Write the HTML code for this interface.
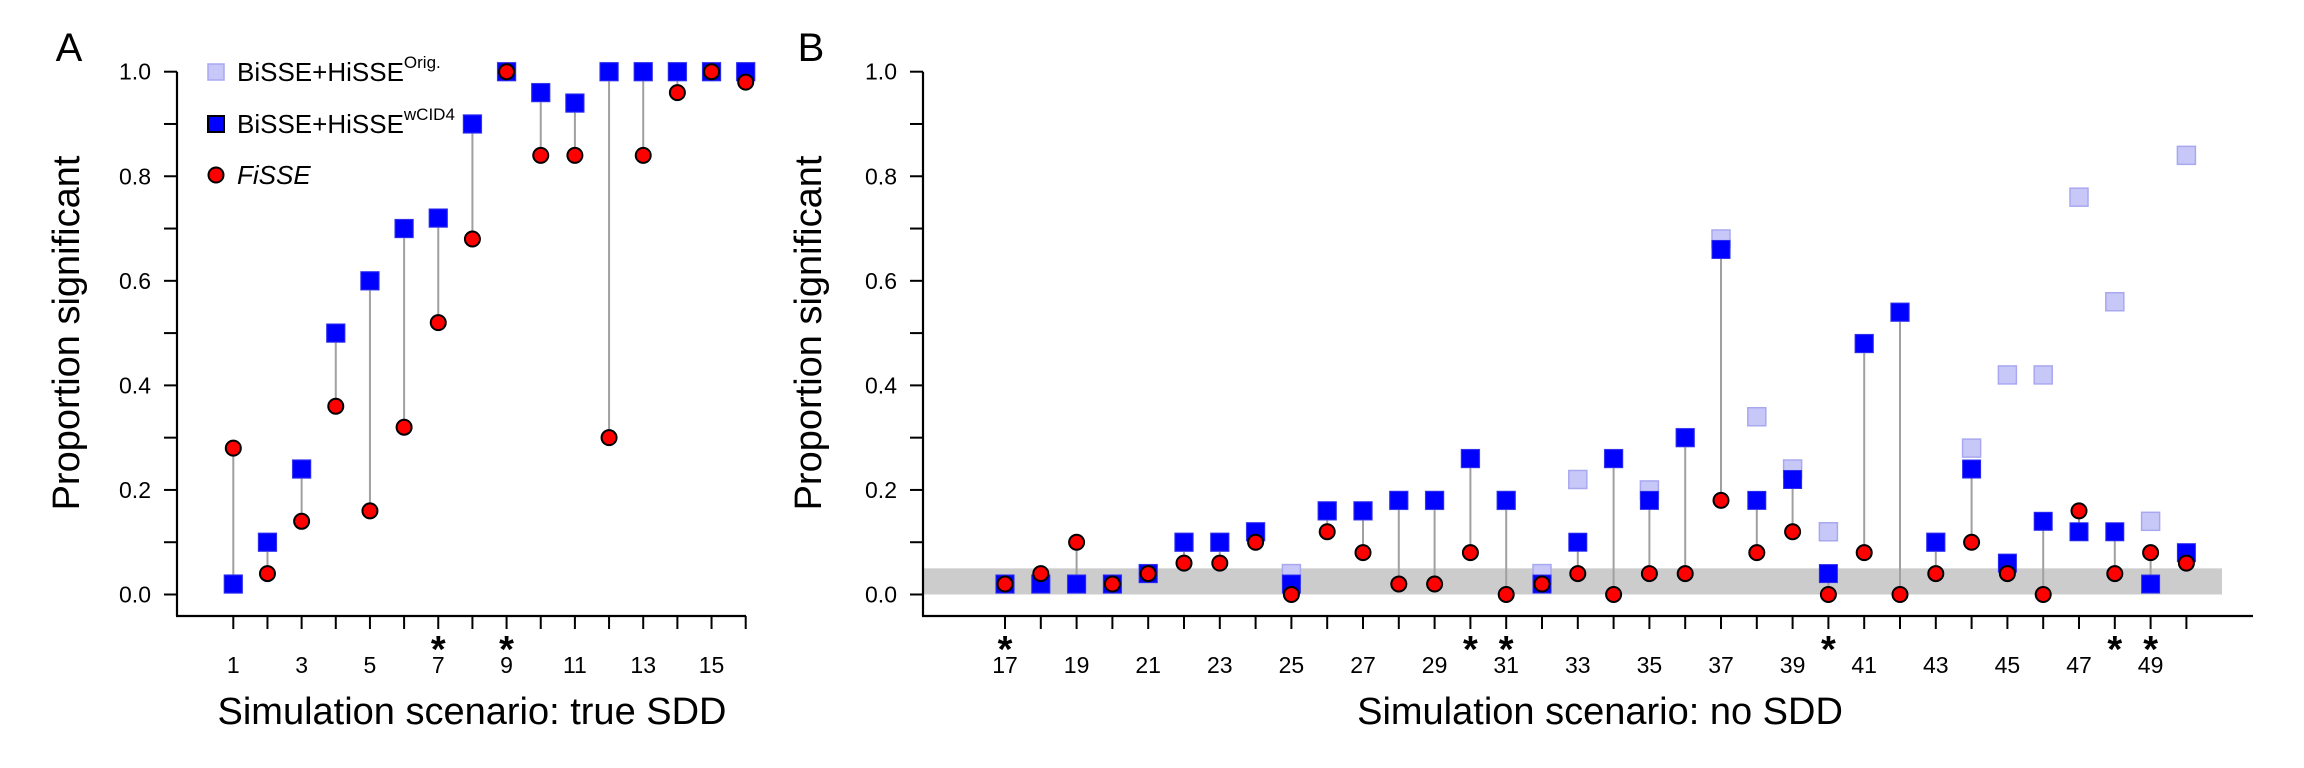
<!DOCTYPE html>
<html><head><meta charset="utf-8">
<style>
html,body{margin:0;padding:0;background:#fff;}
svg{display:block;font-family:"Liberation Sans",Arial,sans-serif;}
</style></head>
<body>
<svg id="chart" width="2304" height="768" viewBox="0 0 2304 768" xmlns="http://www.w3.org/2000/svg">
<g id="gA"></g>
<g id="gB"></g>
</svg>
<script>
const scenA = [1,2,3,4,5,6,7,8,9,10,11,12,13,14,15,16];
const wcidA = [0.02,0.10,0.24,0.50,0.60,0.70,0.72,0.90,1.0,0.96,0.94,1.0,1.0,1.0,1.0,1.0];
const origA = [0.02,0.10,0.24,0.50,0.60,0.70,0.72,0.90,1.0,0.96,0.94,1.0,1.0,1.0,1.0,1.0];
const fisseA = [0.28,0.04,0.14,0.36,0.16,0.32,0.52,0.68,1.0,0.84,0.84,0.30,0.84,0.96,1.0,0.98];
const starsA = [7,9];

const scenB = [17,18,19,20,21,22,23,24,25,26,27,28,29,30,31,32,33,34,35,36,37,38,39,40,41,42,43,44,45,46,47,48,49,50];
const wcidB = [0.02,0.02,0.02,0.02,0.04,0.10,0.10,0.12,0.02,0.16,0.16,0.18,0.18,0.26,0.18,0.02,0.10,0.26,0.18,0.30,0.66,0.18,0.22,0.04,0.48,0.54,0.10,0.24,0.06,0.14,0.12,0.12,0.02,0.08];
const origB = [0.02,0.02,0.02,0.02,0.04,0.10,0.10,0.12,0.04,0.16,0.16,0.18,0.18,0.26,0.18,0.04,0.22,0.26,0.20,0.30,0.68,0.34,0.24,0.12,0.48,0.54,0.10,0.28,0.42,0.42,0.76,0.56,0.14,0.84];
const fisseB = [0.02,0.04,0.10,0.02,0.04,0.06,0.06,0.10,0.00,0.12,0.08,0.02,0.02,0.08,0.00,0.02,0.04,0.00,0.04,0.04,0.18,0.08,0.12,0.00,0.08,0.00,0.04,0.10,0.04,0.00,0.16,0.04,0.08,0.06];
const starsB = [17,30,31,40,48,49];

const yTicks = [0,0.2,0.4,0.6,0.8,1.0];
const yMinor = [0.1,0.3,0.5,0.7,0.9];

const NS = "http://www.w3.org/2000/svg";
function mk(parent, tag, attrs, text){
  const e = document.createElementNS(NS, tag);
  for (const k in attrs) e.setAttribute(k, attrs[k]);
  if (text !== undefined) e.textContent = text;
  parent.appendChild(e);
  return e;
}
const Y0 = 594.5, Y1 = 71.7;
function ys(v){ return Y0 + (Y1 - Y0) * v; }

function panel(g, cfg){
  const xs = s => cfg.x0 + (s - cfg.s0) * cfg.step;
  if (cfg.band){
    const b = mk(g,'rect',{x:cfg.axX, y:ys(0.05), width:cfg.bandEnd-cfg.axX, height:ys(0)-ys(0.05), fill:'#cccccc'});
    
    
  }
  const ya = mk(g,'line',{x1:cfg.axX,y1:ys(1),x2:cfg.axX,y2:616,stroke:'#000','stroke-width':2.2});
  
  
  yTicks.forEach(v=>{
    mk(g,'line',{x1:cfg.axX-13,y1:ys(v),x2:cfg.axX,y2:ys(v),stroke:'#000','stroke-width':2});
    const t = mk(g,'text',{x:cfg.axX-26,y:ys(v)+8,'font-size':23,'text-anchor':'end'}, v.toFixed(1));
    
    
  });
  yMinor.forEach(v=>{
    mk(g,'line',{x1:cfg.axX-13,y1:ys(v),x2:cfg.axX,y2:ys(v),stroke:'#000','stroke-width':2});
  });
  const xa = mk(g,'line',{x1:cfg.axX-1,y1:616,x2:cfg.axEnd,y2:616,stroke:'#000','stroke-width':2.2});
  
  
  cfg.scen.forEach(s=>{
    mk(g,'line',{x1:xs(s),y1:616,x2:xs(s),y2:629,stroke:'#000','stroke-width':2});
    if (s % 2 === 1){
      const t = mk(g,'text',{x:xs(s),y:673,'font-size':23,'text-anchor':'middle'}, String(s));
      
      
    }
  });
  cfg.stars.forEach(s=>{
    const t = mk(g,'text',{x:xs(s),y:662,'font-size':38,'font-weight':'bold','text-anchor':'middle'}, '*');
    
    
  });
  cfg.scen.forEach((s,i)=>{
    const r = mk(g,'rect',{x:xs(s)-9,y:ys(cfg.orig[i])-9,width:18,height:18,fill:'#c8c8f8',stroke:'#a8a8f0','stroke-width':1.5});
    
    
  });
  cfg.scen.forEach((s,i)=>{
    const l = mk(g,'line',{x1:xs(s),y1:ys(cfg.wcid[i]),x2:xs(s),y2:ys(cfg.fisse[i]),stroke:'#a0a0a0','stroke-width':2});
    
    
  });
  cfg.scen.forEach((s,i)=>{
    const r = mk(g,'rect',{x:xs(s)-9,y:ys(cfg.wcid[i])-9,width:18,height:18,fill:'#0000ff',stroke:'#2a2af0','stroke-width':1});
    
    
  });
  cfg.scen.forEach((s,i)=>{
    const c = mk(g,'circle',{cx:xs(s),cy:ys(cfg.fisse[i]),r:7.5,fill:'#ff0000',stroke:'#000','stroke-width':2});
    
    
  });
  const yt = mk(g,'text',{x:0,y:0,'font-size':38,'text-anchor':'middle',transform:`translate(${cfg.ytX},333) rotate(-90)`}, 'Proportion significant');
  
  
  const xt = mk(g,'text',{x:cfg.xtX,y:724,'font-size':38,'text-anchor':'middle'}, cfg.xtitle);
  
  
  const pl = mk(g,'text',{x:cfg.lblX,y:61,'font-size':40,'text-anchor':'middle'}, cfg.label);
  
  
}

const gA = document.getElementById('gA');
const gB = document.getElementById('gB');
panel(gA,{scen:scenA,wcid:wcidA,orig:origA,fisse:fisseA,stars:starsA,s0:1,x0:233.3,step:34.16,axX:177,axEnd:746,
  ytX:79,xtX:472,xtitle:'Simulation scenario: true SDD',label:'A',lblX:69});
panel(gB,{scen:scenB,wcid:wcidB,orig:origB,fisse:fisseB,stars:starsB,s0:17,x0:1005,step:35.8,axX:923,axEnd:2253,
  band:true,bandEnd:2222,ytX:821,xtX:1600,xtitle:'Simulation scenario: no SDD',label:'B',lblX:811});

const lg = mk(gA,'g',{});


const l1 = mk(lg,'rect',{x:208,y:64,width:16,height:16,fill:'#c8c8f8',stroke:'#a8a8f0','stroke-width':1.5});


const t1 = mk(lg,'text',{x:237,y:81,'font-size':26});


t1.innerHTML = 'BiSSE+HiSSE<tspan dy="-13" font-size="17">Orig.</tspan>';
const l2 = mk(lg,'rect',{x:208,y:116,width:16,height:16,fill:'#0000ff',stroke:'#000','stroke-width':2});


const t2 = mk(lg,'text',{x:237,y:133,'font-size':26});


t2.innerHTML = 'BiSSE+HiSSE<tspan dy="-13" font-size="17">wCID4</tspan>';
const l3 = mk(lg,'circle',{cx:216,cy:175,r:7.5,fill:'#ff0000',stroke:'#000','stroke-width':2});


const t3 = mk(lg,'text',{x:237,y:184,'font-size':26,'font-style':'italic'},'FiSSE');


</script>
</body></html>
